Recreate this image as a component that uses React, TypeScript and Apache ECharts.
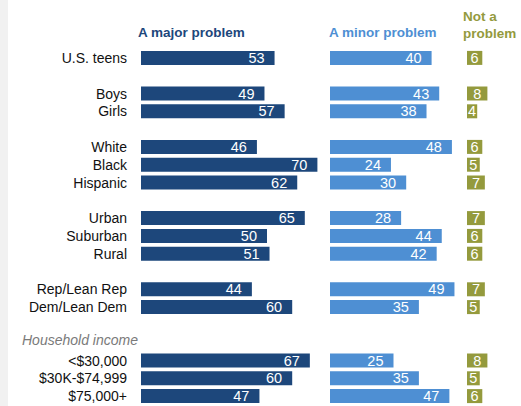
import React, { useEffect, useRef } from "react";
import * as echarts from "echarts";

const categories = [
  "U.S. teens", "", "Boys", "Girls", "", "White", "Black", "Hispanic", "",
  "Urban", "Suburban", "Rural", "", "Rep/Lean Rep", "Dem/Lean Dem", "", "",
  "<$30,000", "$30K-$74,999", "$75,000+",
];
const major = [53, null, 49, 57, null, 46, 70, 62, null, 65, 50, 51, null, 44, 60, null, null, 67, 60, 47];
const minor = [40, null, 43, 38, null, 48, 24, 30, null, 28, 44, 42, null, 49, 35, null, null, 25, 35, 47];
const notProblem = [6, null, 8, 4, null, 6, 5, 7, null, 7, 6, 6, null, 7, 5, null, null, 8, 5, 6];
const seriesNames = ["A major problem", "A minor problem", "Not a\nproblem"];
const groupLabel = "Household income";

const FONT = "'Liberation Sans', Arial, sans-serif";
const C_MAJOR = "#1d477b";
const C_MINOR = "#4e8fd3";
const C_NOT = "#949a3d";

export default function App() {
  const ref = useRef<HTMLDivElement>(null);
  useEffect(() => {
    if (!ref.current) return;
    const chart = echarts.init(ref.current, null, { renderer: "svg" });
    const top = 49;
    const height = 356;
    const grids = [
      { left: 141, width: 252, top, height },
      { left: 330, width: 152.4, top, height },
      { left: 467, width: 51, top, height },
    ];
    const maxes = [100, 60, 20];
    const data = [major, minor, notProblem];
    const colors = [C_MAJOR, C_MINOR, C_NOT];
    chart.setOption({
      animation: false,
      backgroundColor: "#ffffff",
      textStyle: { fontFamily: FONT },
      grid: grids,
      xAxis: grids.map((_, i) => ({
        type: "value",
        gridIndex: i,
        min: 0,
        max: maxes[i],
        show: false,
      })),
      yAxis: grids.map((_, i) => ({
        type: "category",
        gridIndex: i,
        data: categories,
        inverse: true,
        axisLine: { show: false },
        axisTick: { show: false },
        splitLine: { show: false },
        axisLabel: {
          show: i === 0,
          margin: 14,
          fontSize: 14,
          color: "#111111",
          fontFamily: FONT,
          interval: 0,
        },
      })),
      series: data.map((d, i) => ({
        type: "bar",
        name: seriesNames[i],
        xAxisIndex: i,
        yAxisIndex: i,
        data: d,
        barWidth: 14,
        itemStyle: { color: colors[i] },
        label: {
          show: true,
          position: i === 2 ? "inside" : "insideRight",
          distance: 10,
          color: "#ffffff",
          fontSize: 14.5,
          fontFamily: FONT,
        },
      })),
      graphic: [
        { type: "rect", left: 0, top: 0, shape: { width: 8, height: 406 }, style: { fill: "#f1f1f1" } },
        {
          type: "text", left: 138, top: 25,
          style: { text: seriesNames[0], fill: C_MAJOR, font: `bold 13.5px ${FONT}` },
        },
        {
          type: "text", left: 329, top: 25,
          style: { text: seriesNames[1], fill: C_MINOR, font: `bold 13.5px ${FONT}` },
        },
        {
          type: "text", left: 463, top: 8,
          style: { text: seriesNames[2], fill: C_NOT, font: `bold 13.5px ${FONT}`, lineHeight: 17 },
        },
        {
          type: "text", left: 22, top: 333,
          style: { text: groupLabel, fill: "#7a7a7a", font: `italic 14px ${FONT}` },
        },
      ],
    });
    return () => chart.dispose();
  }, []);
  return (
    <div
      ref={ref}
      style={{ position: "fixed", left: 0, top: 0, width: 521, height: 406 }}
    />
  );
}
